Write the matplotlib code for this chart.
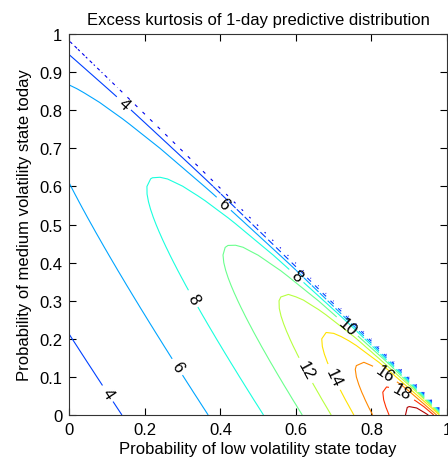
import numpy as np
import matplotlib.pyplot as plt
from matplotlib.ticker import FuncFormatter

plt.rcParams['font.family'] = ['Liberation Sans', 'DejaVu Sans']

# regime model: variances of the low / medium / high states
state_var = np.array([1.0, 4.0, 30.0])
# one-day transition from today's state (rows) to tomorrow's state (cols)
trans = np.array([[1.000, 0.000, 0.00],
                  [0.272, 0.728, 0.00],
                  [0.550, 0.000, 0.45]])
grid_step = 0.02
levels = [2, 4, 6, 8, 10, 12, 14, 16, 18, 20]
label_pos = [(0.147, 0.821), (0.107, 0.060), (0.412, 0.558), (0.284, 0.125),
             (0.602, 0.366), (0.325, 0.304), (0.734, 0.230), (0.624, 0.116),
             (0.699, 0.099), (0.836, 0.108), (0.880, 0.058)]

p_low = np.arange(0, 1 + grid_step / 2, grid_step)
p_med = np.arange(0, 1 + grid_step / 2, grid_step)
X, Y = np.meshgrid(p_low, p_med)
p_high = 1 - X - Y
today = np.stack([X, Y, np.clip(p_high, 0, None)], axis=-1)
tomorrow = today @ trans
m2 = tomorrow @ state_var
m4 = tomorrow @ state_var**2
kurt = 3 * m4 / m2**2 - 3
kurt = np.ma.masked_where(p_high < -1e-9, kurt)

fig = plt.figure(figsize=(4.48, 4.64), dpi=100)
ax = fig.add_axes([0.155, 0.1034, 0.8426, 0.821])

styles = [(0, (3, 3))] + ['solid'] * (len(levels) - 1)
cs = ax.contour(X, Y, kurt, levels=levels, cmap='jet', vmin=0, vmax=kurt.max(),
                corner_mask=False, linewidths=0.8, linestyles=styles)
ax.clabel(cs, manual=label_pos, inline=True, fontsize=12, colors='k', fmt='%d')

ax.set_xlim(0, 1)
ax.set_ylim(0, 1)
ax.set_xticks(np.arange(0, 1.01, 0.2))
ax.set_yticks(np.arange(0, 1.01, 0.1))
fmt = FuncFormatter(lambda v, _: f'{v:.1f}'.rstrip('0').rstrip('.') if v else '0')
ax.xaxis.set_major_formatter(fmt)
ax.yaxis.set_major_formatter(fmt)
ax.tick_params(direction='in', top=True, right=True, length=5, width=0.8,
               labelsize=12, pad=5)
for sp in ax.spines.values():
    sp.set_linewidth(0.8)
    sp.set_color('#333333')

ax.set_title('Excess kurtosis of 1-day predictive distribution', fontsize=12, pad=7)
ax.set_xlabel('Probability of low volatility state today', fontsize=12, labelpad=3)
ax.set_ylabel('Probability of medium volatility state today', fontsize=12, labelpad=5)

fig.savefig('out.png', dpi=100)
